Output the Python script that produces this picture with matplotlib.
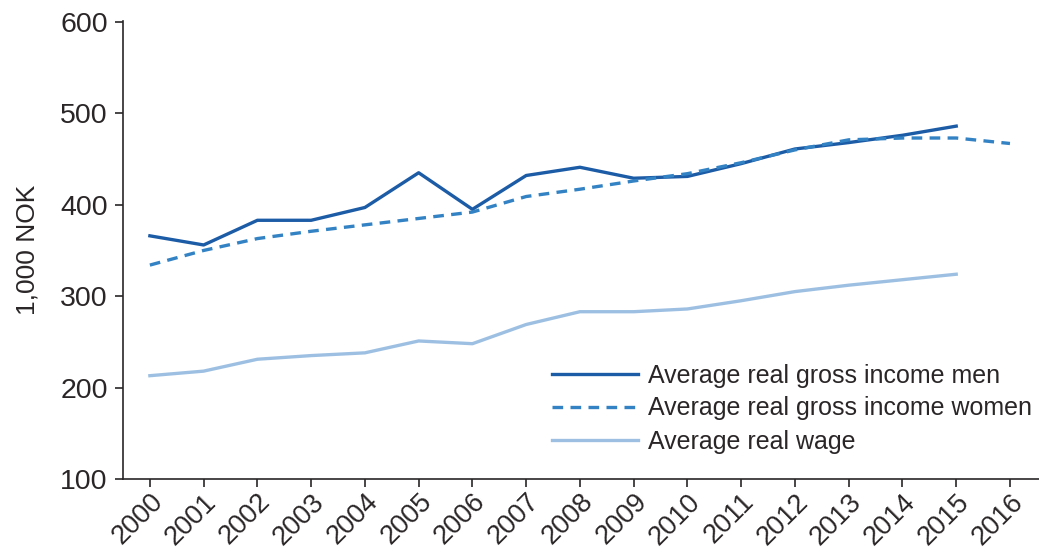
import matplotlib
matplotlib.use("Agg")
import matplotlib.pyplot as plt

# data (1,000 NOK)
years = list(range(2000, 2017))
men = [366, 356, 383, 383, 397, 435, 395, 432, 441, 429, 431, 445, 461, 468, 476, 486]
women = [334, 350, 363, 371, 378, 385, 392, 409, 417, 426, 434, 446, 460, 471, 473, 473, 467]
wage = [213, 218, 231, 235, 238, 251, 248, 269, 283, 283, 286, 295, 305, 312, 318, 324]

labels = ["Average real gross income men",
          "Average real gross income women",
          "Average real wage"]

plt.rcParams['font.family'] = ['Liberation Sans', 'DejaVu Sans']
txt = '#2a2627'

fig = plt.figure(figsize=(10.39, 5.52), dpi=100)
ax = fig.add_axes([123 / 1039, 1 - 479 / 552, 1 - 123 / 1039, (479 - 21) / 552])

ax.plot(years[:len(men)], men, color='#1c5ba6', lw=2.4, label=labels[0])
ax.plot(years[:len(women)], women, color='#3282c4', lw=2.4, ls=(0, (3.2, 2.2)), label=labels[1])
ax.plot(years[:len(wage)], wage, color='#9dc0e2', lw=2.4, label=labels[2])

ax.set_xlim(1999.5, 2016.54)
ax.set_ylim(100, 601)
ax.set_yticks([100, 200, 300, 400, 500, 600])
ax.set_xticks(years)
ax.set_xticklabels([str(y) for y in years], rotation=45, ha='right', va='top',
                   rotation_mode='anchor')

for s in ['top', 'right']:
    ax.spines[s].set_visible(False)
for s in ['left', 'bottom']:
    ax.spines[s].set_color(txt)
    ax.spines[s].set_linewidth(1.2)
ax.tick_params(axis='both', colors=txt, length=6, width=1.2, labelcolor=txt)
ax.tick_params(axis='y', labelsize=20.5, pad=5)
ax.tick_params(axis='x', labelsize=19.5, pad=1)

ax.set_ylabel('1,000 NOK', fontsize=19, color=txt, labelpad=15)

ax.legend(loc='upper left', bbox_to_anchor=(529 / 1039, 1 - 341 / 552),
          bbox_transform=fig.transFigure, frameon=False, fontsize=18,
          handlelength=3.45, handletextpad=0.4, labelspacing=0.36, labelcolor=txt)

fig.savefig('out.png', dpi=100)
